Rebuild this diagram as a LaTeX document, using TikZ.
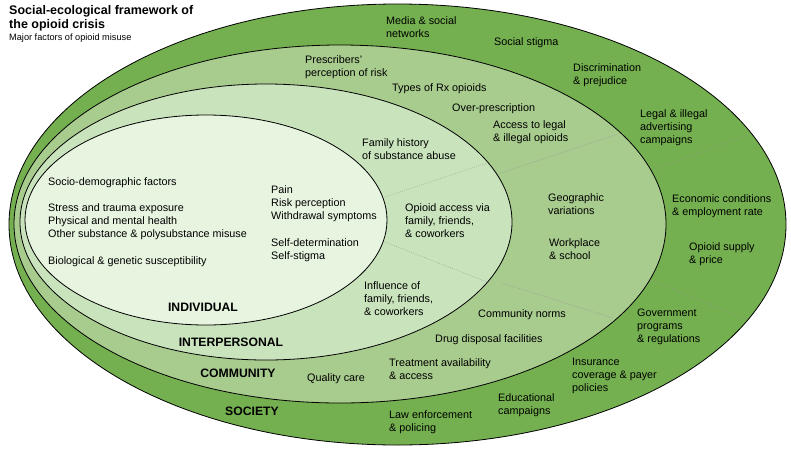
\documentclass[tikz,border=0pt]{standalone}
\usepackage{fontspec}
\setmainfont{Liberation Sans}

\definecolor{society}{HTML}{74B04F}
\definecolor{community}{HTML}{A8CB8E}
\definecolor{interpersonal}{HTML}{C9E4BC}
\definecolor{individual}{HTML}{E7F4E0}

\tikzset{
  ring/.style={draw=black,line width=0.8pt},
  divider/.style={draw=black!40,line width=0.45pt,dash pattern=on 0.8pt off 1.2pt},
  layer/.style={font=\fontsize{12.2}{14}\selectfont\bfseries,yshift=-1pt}
}

\begin{document}
\begin{tikzpicture}[x=1pt,y=-1pt]

      \useasboundingbox (0,0) rectangle (791,450);

      \filldraw[ring,fill=society]       (397.5,224.5) ellipse [x radius=388.5, y radius=220.5];
      \filldraw[ring,fill=community]     (340,224)     ellipse [x radius=326,   y radius=179];
      \filldraw[ring,fill=interpersonal] (266,222)     ellipse [x radius=246,   y radius=138];
      \filldraw[ring,fill=individual]    (206,220)     ellipse [x radius=181,   y radius=105];

      \begin{scope}[every path/.style={divider}]
        \draw (385,197) -- (487,163);
        \draw (500,173) -- (618,134);
        \draw (653,170) -- (750,134);
        \draw (385,242) -- (487,282);
        \draw (502,283) -- (613,318);
        \draw (652,280) -- (747,320);
      \end{scope}

      \begin{scope}[every node/.style={anchor=west,inner sep=0pt,align=left,yshift=-0.8pt}]
        \node[font=\fontsize{12.5}{14}\selectfont\bfseries] (title) at (9,17)
          {Social-ecological framework of\\the opioid crisis};
        \node[font=\fontsize{9.2}{11}\selectfont] (subtitle) at (9,37.5)
          {Major factors of opioid misuse};
      \end{scope}

      \begin{scope}[every node/.style={anchor=west,inner sep=0pt,align=left,yshift=-1.3pt,
          font=\fontsize{10.8}{13}\selectfont}]
        \node (media)     at (386,25.5)  {Media \& social\\networks};
        \node (stigma)    at (494,41)    {Social stigma};
        \node (discrim)   at (573,73.5)  {Discrimination\\\& prejudice};
        \node (advert)    at (640,126)   {Legal \& illegal\\advertising\\campaigns};
        \node (econ)      at (672,204.5) {Economic conditions\\\& employment rate};
        \node (supply)    at (689,252.5) {Opioid supply\\\& price};
        \node (govt)      at (637,325.5) {Government\\programs\\\& regulations};
        \node (insur)     at (572,375)   {Insurance\\coverage \& payer\\policies};
        \node (educ)      at (498,403.5) {Educational\\campaigns};
        \node (law)       at (389,420.5) {Law enforcement\\\& policing};

        \node (prescr)    at (305,65.5)  {Prescribers'\\perception of risk};
        \node (types)     at (392,87)    {Types of Rx opioids};
        \node (overpr)    at (452,107)   {Over-prescription};
        \node (access)    at (493,130.5) {Access to legal\\\& illegal opioids};
        \node (geo)       at (548,202.5) {Geographic\\variations};
        \node (work)      at (549,247.5) {Workplace\\\& school};
        \node (norms)     at (478,313)   {Community norms};
        \node (disposal)  at (435,338)   {Drug disposal facilities};
        \node (treat)     at (389,368)   {Treatment availability\\\& access};
        \node (quality)   at (307,377)   {Quality care};

        \node (history)   at (362,147.5) {Family history\\of substance abuse};
        \node (accessvia) at (405,219)   {Opioid access via\\family, friends,\\\& coworkers};
        \node (influence) at (364,297)   {Influence of\\family, friends,\\\& coworkers};

        \node (socio)     at (48,181)    {Socio-demographic factors};
        \node (stress)    at (48,220)    {Stress and trauma exposure\\Physical and mental health\\Other substance \& polysubstance misuse};
        \node (bio)       at (48,260)    {Biological \& genetic susceptibility};
        \node (pain)      at (271,202)   {Pain\\Risk perception\\Withdrawal symptoms};
        \node (selfdet)   at (271,248.5) {Self-determination\\Self-stigma};
      \end{scope}

      \begin{scope}[every node/.style={layer}]
        \node (lindividual)    at (203,306) {INDIVIDUAL};
        \node (linterpersonal) at (231,341) {INTERPERSONAL};
        \node (lcommunity)     at (238,372) {COMMUNITY};
        \node (lsociety)       at (252,410) {SOCIETY};
      \end{scope}

    \end{tikzpicture}
\end{document}
